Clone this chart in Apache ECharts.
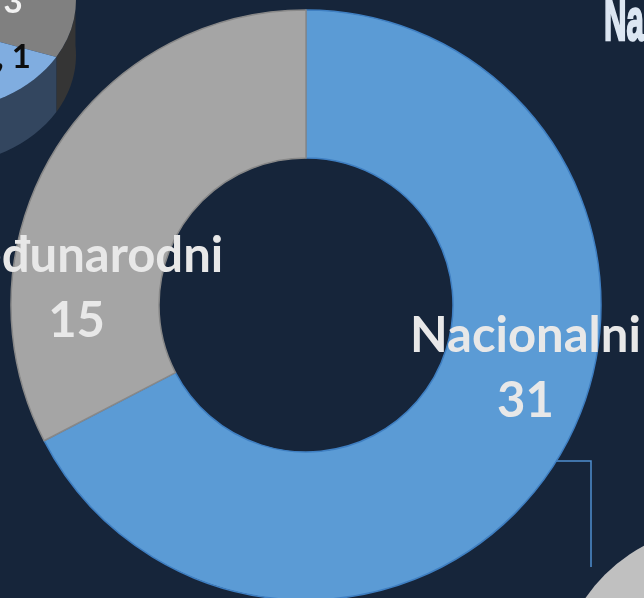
<!DOCTYPE html>
<html>
<head>
<meta charset="utf-8">
<script src="https://cdn.jsdelivr.net/npm/echarts@6/dist/echarts.min.js"></script>
<style>
  html, body { margin: 0; padding: 0; background: #16253a; }
  #main { width: 644px; height: 598px; }
</style>
</head>
<body>
<div id="main"></div>
<script>
// podaci
var categories = ['Nacionalni', 'Međunarodni'];
var values = [31, 15];
var sliceColors = ['#5b9bd5', '#a5a5a5'];
var sliceBorders = ['#3f7fc2', '#888888'];
// pomak oznaka (ručno pomaknute kao u originalu)
var labelOffsets = [[28, -53], [-38, 100]];

// točke elipse (za djelomični 3D pie u kutu)
function rim (cx, cy, rx, ry, t0, t1) {
  var pts = [];
  var n = 40;
  for (var i = 0; i <= n; i++) {
    var t = (t0 + (t1 - t0) * i / n) * Math.PI / 180;
    pts.push([cx + rx * Math.cos(t), cy + ry * Math.sin(t)]);
  }
  return pts;
}

var ex = -60, ey = 0, erx = 136, ery = 110, depth = 55, split = 31.2;
var apex = [-150, 2];

var grayWall = rim(ex, ey, erx, ery, -5, split).concat(rim(ex, ey + depth, erx, ery, split, -5));
var blueWall = rim(ex, ey, erx, ery, split, 180).concat(rim(ex, ey + depth, erx, ery, 180, split));
var grayTop = [apex].concat(rim(ex, ey, erx, ery, split, -180));
var blueTop = [apex].concat(rim(ex, ey, erx, ery, split, 180));

var myChart = echarts.init(document.getElementById('main'));

var option = {
  backgroundColor: '#16253a',
  animation: false,
  graphic: [
    { type: 'polygon', z: 0, shape: { points: grayWall }, style: { fill: '#353535' } },
    { type: 'polygon', z: 0, shape: { points: blueWall }, style: { fill: '#33465f' } },
    { type: 'polygon', z: 0, shape: { points: grayTop }, style: { fill: '#808080' } },
    { type: 'polygon', z: 0, shape: { points: blueTop }, style: { fill: '#80ade0' } },
    {
      type: 'text', z: 1, x: 13, y: 19,
      style: { text: '3', font: 'bold 33px Lato', fill: '#f2f2f2', align: 'center', verticalAlign: 'bottom' }
    },
    {
      type: 'text', z: 1, x: 31, y: 74,
      style: { text: ', 1', font: 'bold 33px Lato', fill: '#0d0d0d', align: 'right', verticalAlign: 'bottom' }
    },
    // sivi krug dolje desno
    { type: 'circle', z: 0, shape: { cx: 720, cy: 690, r: 163 }, style: { fill: '#c0c0c0' } },
    // linija vodilica
    {
      type: 'polyline', z: 1,
      shape: { points: [[555, 461], [591, 461], [591, 567]] },
      style: { stroke: '#4f8fcf', lineWidth: 1.5, fill: null }
    },
    // naslov (odrezan)
    {
      type: 'text', z: 1, x: 604, y: 53, scaleX: 0.52, originX: 0, originY: 0,
      style: {
        text: 'Na', font: 'bold 60px "Liberation Sans"', fill: '#dce6f2',
        stroke: '#dce6f2', lineWidth: 2.5, align: 'left', verticalAlign: 'bottom'
      }
    }
  ],
  series: [
    {
      type: 'pie',
      center: [306, 305],
      radius: [147, 295],
      startAngle: 90,
      clockwise: true,
      silent: true,
      avoidLabelOverlap: false,
      label: {
        show: true,
        position: 'inside',
        formatter: '{b}\n{c}',
        fontFamily: 'Lato',
        fontWeight: 'bold',
        fontSize: 49,
        lineHeight: 65,
        color: '#e8e8e8'
      },
      labelLine: { show: false },
      data: categories.map(function (name, i) {
        return {
          name: name,
          value: values[i],
          itemStyle: { color: sliceColors[i], borderColor: sliceBorders[i], borderWidth: 1.5 },
          label: { offset: labelOffsets[i] }
        };
      })
    }
  ]
};

myChart.setOption(option);
</script>
</body>
</html>
